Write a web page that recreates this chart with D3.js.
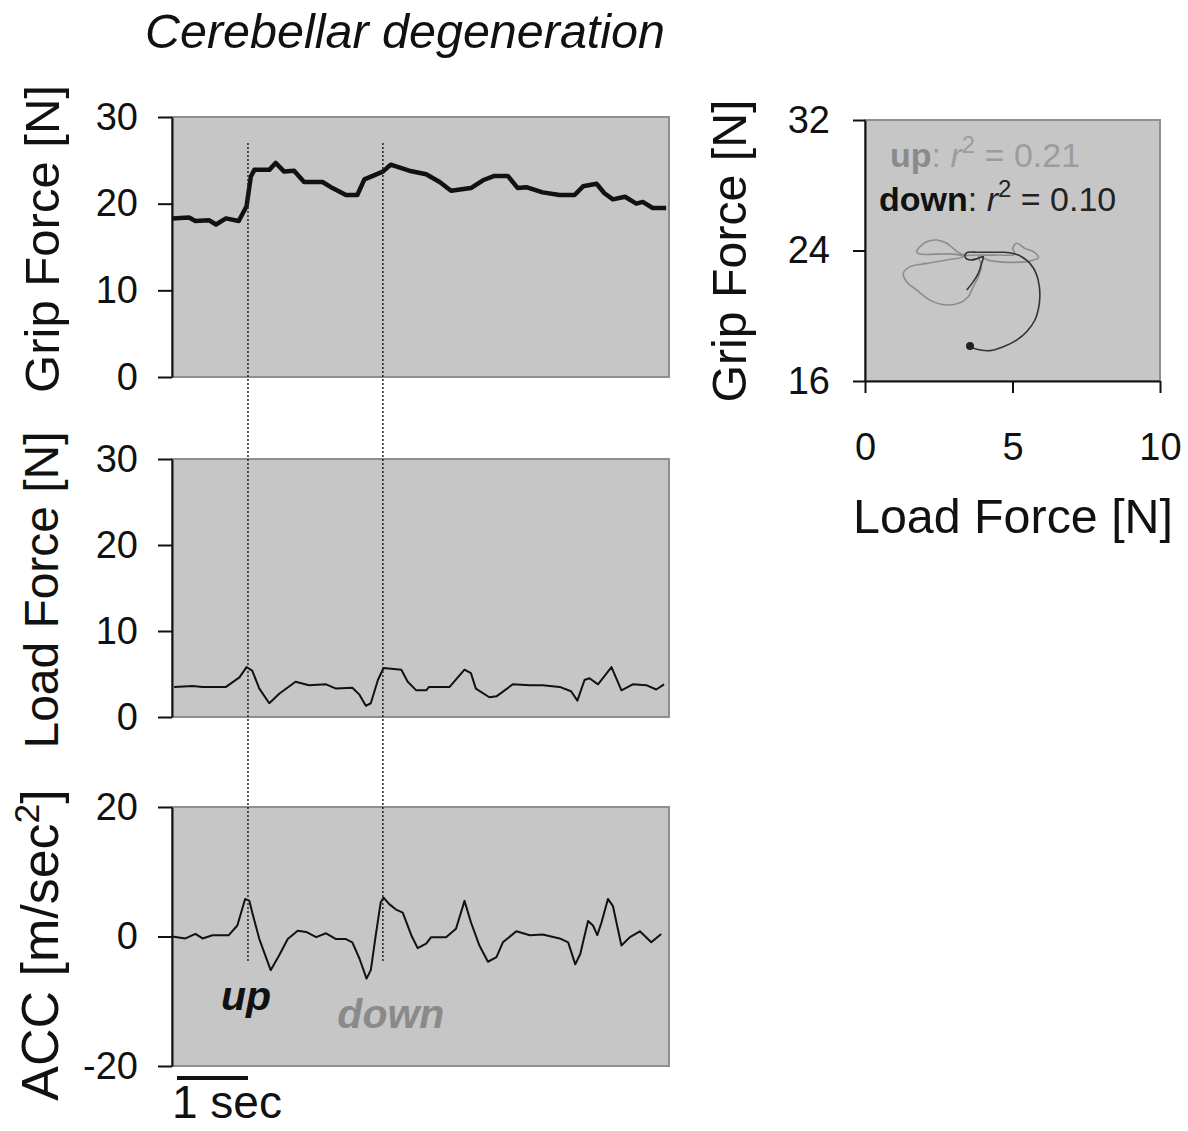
<!DOCTYPE html>
<html>
<head>
<meta charset="utf-8">
<script src="https://cdn.jsdelivr.net/npm/d3@7"></script>
<style>
    body { margin: 0; background: #fff; }
    svg text { font-family: "Liberation Sans", Arial, sans-serif; fill: #111; }
    .axis path, .axis line { stroke: #111; stroke-width: 2; }
    .axis text { font-size: 38px; fill: #111; }
    .frame { fill: #c6c6c6; stroke: #8f8f8f; stroke-width: 2; }
</style>
</head>
<body>
<div id="chart"></div>
<script>
;(function () {

    // time series (seconds, value)
    var gripTime = [0, 0.24, 0.33, 0.52, 0.62, 0.76, 0.94, 1.05, 1.11, 1.16, 1.37, 1.46, 1.58, 1.72, 1.86,
        2.12, 2.26, 2.45, 2.61, 2.71, 2.97, 3.08, 3.34, 3.58, 3.77, 3.93, 4.21, 4.38, 4.54, 4.73, 4.87, 4.99,
        5.22, 5.46, 5.67, 5.79, 5.98, 6.09, 6.21, 6.38, 6.54, 6.63, 6.77, 6.96];
    var gripForce = [18.3, 18.4, 18.0, 18.1, 17.6, 18.3, 18.0, 19.7, 23.1, 23.9, 23.9, 24.7, 23.7, 23.8, 22.5,
        22.5, 21.8, 21.0, 21.0, 22.8, 23.7, 24.5, 23.8, 23.4, 22.5, 21.5, 21.8, 22.7, 23.2, 23.2, 21.8, 21.9,
        21.3, 21.0, 21.0, 22.0, 22.3, 21.2, 20.5, 20.8, 20.0, 20.2, 19.5, 19.5];

    var loadTime = [0.03, 0.29, 0.43, 0.57, 0.76, 0.95, 1.05, 1.13, 1.23, 1.37, 1.51, 1.74, 1.93, 2.17, 2.31,
        2.54, 2.64, 2.73, 2.80, 2.90, 2.98, 3.23, 3.32, 3.44, 3.58, 3.62, 3.91, 4.12, 4.21, 4.28, 4.47, 4.57,
        4.80, 5.04, 5.22, 5.46, 5.62, 5.71, 5.81, 5.88, 6.00, 6.19, 6.33, 6.49, 6.68, 6.82, 6.93];
    var loadForce = [3.5, 3.6, 3.5, 3.5, 3.5, 4.6, 5.8, 5.4, 3.3, 1.6, 2.7, 4.1, 3.7, 3.8, 3.3,
        3.4, 2.6, 1.3, 1.6, 4.3, 5.7, 5.5, 4.1, 3.1, 3.1, 3.5, 3.5, 5.5, 5.1, 3.3, 2.3, 2.4,
        3.8, 3.7, 3.7, 3.5, 3.0, 1.9, 4.3, 4.5, 3.8, 5.8, 3.1, 3.8, 3.7, 3.2, 3.8];

    var accTime = [0, 0.19, 0.33, 0.43, 0.57, 0.80, 0.92, 1.03, 1.09, 1.13, 1.23, 1.39, 1.51, 1.63, 1.77,
        1.89, 2.03, 2.17, 2.31, 2.45, 2.54, 2.64, 2.74, 2.80, 2.87, 2.94, 2.98, 3.06, 3.15, 3.25, 3.37, 3.46,
        3.58, 3.65, 3.86, 4.00, 4.12, 4.21, 4.33, 4.45, 4.57, 4.66, 4.85, 5.04, 5.22, 5.46, 5.58, 5.68, 5.75,
        5.86, 5.93, 5.99, 6.05, 6.14, 6.21, 6.33, 6.45, 6.59, 6.75, 6.89];
    var accValue = [0, -0.3, 0.4, -0.3, 0.2, 0.2, 1.7, 5.8, 5.5, 3.7, -0.4, -5.2, -2.9, -0.4, 0.9,
        0.7, -0.1, 0.5, -0.4, -0.4, -0.9, -3.4, -6.5, -5.2, 0.2, 5.3, 6.0, 5.0, 4.2, 3.7, 0.2, -1.8,
        -1.1, -0.1, -0.1, 1.2, 5.5, 2.2, -1.4, -3.9, -3.2, -0.9, 0.8, 0.2, 0.3, -0.3, -0.9, -4.3, -2.7,
        2.4, 1.7, 0.2, 2.2, 5.8, 4.7, -1.4, -0.1, 0.8, -0.9, 0.4];

    // onsets of the up and down movements
    var markerTimes = [1.07, 2.97];
    var markerNames = ['up', 'down'];

    // grip force vs load force loops
    var upLoad = [3.45, 3.22, 2.99, 2.77, 2.43, 2.09, 1.86, 1.75, 1.86, 2.43, 2.99, 3.33, 2.77, 2.09, 1.53,
        1.30, 1.41, 1.75, 2.20, 2.77, 3.22, 3.50, 3.67, 3.84, 3.95, 3.84, 4.24, 5.03, 5.65, 5.88,
        5.71, 5.42, 5.14, 5.01, 5.08, 4.50, 3.90, 3.45];
    var upGrip = [23.70, 23.82, 24.13, 24.44, 24.64, 24.54, 24.23, 23.93, 23.78, 23.78, 23.78, 23.62, 23.42, 23.21, 23.01,
        22.60, 22.09, 21.58, 20.96, 20.66, 20.80, 21.17, 21.78, 22.39, 23.11, 23.62, 23.38, 23.27, 23.38, 23.58,
        23.93, 24.13, 24.44, 24.13, 23.78, 23.72, 23.72, 23.70];
    var downLoad = [3.56, 3.79, 4.24, 4.69, 5.14, 5.48, 5.76, 5.91, 5.91, 5.80, 5.59, 5.31, 5.03, 4.69, 4.24,
        3.79, 3.45, 3.39, 3.56, 3.84, 4.01, 3.95, 3.84, 3.67, 3.45];
    var downGrip = [18.14, 17.94, 17.86, 18.10, 18.51, 19.02, 19.74, 20.76, 21.78, 22.60, 23.21, 23.62, 23.82, 23.89, 23.89,
        23.89, 23.87, 23.62, 23.42, 23.52, 23.62, 23.21, 22.60, 22.09, 21.58];

    var forceTicks = [0, 10, 20, 30];
    var accTicks = [-20, 0, 20];
    var scatterYTicks = [16, 24, 32];
    var scatterXTicks = [0, 5, 10];
    var fitLabels = [{ name: 'up', r2: '0.21' }, { name: 'down', r2: '0.10' }];

    var width = 1188
        , height = 1131
        , svg;

    function pairs(xs, ys) {
        return xs.map(function (x, i) { return [x, ys[i]]; });
    }

    function addFrame(x0, x1, y0, y1) {
        svg.append('rect')
            .attr('class', 'frame')
            .attr('x', x0)
            .attr('y', y0)
            .attr('width', x1 - x0)
            .attr('height', y1 - y0);
    }

    function addYLabel(parts, cx, cy, size, length) {
        var t = svg.append('text')
            .attr('transform', 'translate(' + cx + ',' + cy + ') rotate(-90)')
            .attr('text-anchor', 'middle')
            .attr('font-size', size);
        if (typeof parts === 'string') {
            t.text(parts);
            if (length) {
                t.attr('textLength', length).attr('lengthAdjust', 'spacingAndGlyphs');
            }
        } else {
            t.append('tspan').text(parts[0]);
            t.append('tspan').attr('font-size', size * 0.68).attr('dy', -size * 0.36).text(parts[1]);
            t.append('tspan').attr('dy', size * 0.36).text(parts[2]);
        }
    }

    function drawTraces() {
        var x = d3.scaleLinear().domain([0, 7]).range([172, 669]);

        var yGrip = d3.scaleLinear().domain([0, 30]).range([377, 117]);
        var yLoad = d3.scaleLinear().domain([0, 30]).range([717, 459]);
        var yAcc = d3.scaleLinear().domain([-20, 20]).range([1066, 807]);

        var panels = [
            { y: yGrip, ticks: forceTicks, data: pairs(gripTime, gripForce), lw: 4.5 },
            { y: yLoad, ticks: forceTicks, data: pairs(loadTime, loadForce), lw: 2 },
            { y: yAcc, ticks: accTicks, data: pairs(accTime, accValue), lw: 2 }
        ];

        panels.forEach(function (p) {
            var r = p.y.range();
            addFrame(x(0), x(7), r[1], r[0]);

            svg.append('g')
                .attr('class', 'axis')
                .attr('transform', 'translate(' + x(0) + ',0)')
                .call(d3.axisLeft(p.y)
                    .tickValues(p.ticks)
                    .tickSize(14)
                    .tickSizeOuter(0)
                    .tickPadding(20)
                    .tickFormat(function (d) { return String(d); }));

            svg.append('path')
                .datum(p.data)
                .attr('fill', 'none')
                .attr('stroke', '#111')
                .attr('stroke-width', p.lw)
                .attr('stroke-linejoin', 'round')
                .attr('d', d3.line()
                    .x(function (d) { return x(d[0]); })
                    .y(function (d) { return p.y(d[1]); }));
        });

        // dotted onset markers running through all three panels
        svg.selectAll('.marker')
            .data(markerTimes)
            .enter().append('line')
            .attr('class', 'marker')
            .attr('x1', function (d) { return x(d); })
            .attr('x2', function (d) { return x(d); })
            .attr('y1', yGrip(27))
            .attr('y2', yAcc(-4))
            .attr('stroke', '#222')
            .attr('stroke-width', 1.5)
            .attr('stroke-dasharray', '2,2');

        svg.selectAll('.onset')
            .data(markerNames)
            .enter().append('text')
            .attr('class', 'onset')
            .attr('x', function (d, i) { return x(markerTimes[i]) + (i ? 8 : -2); })
            .attr('y', function (d, i) { return i ? 1028 : 1010; })
            .attr('text-anchor', 'middle')
            .attr('font-size', 41)
            .attr('font-weight', 'bold')
            .attr('font-style', 'italic')
            .style('fill', function (d, i) { return i ? '#8a8a8a' : '#111'; })
            .text(function (d) { return d; });

        // 1 sec scale bar
        svg.append('line')
            .attr('x1', x(0) + 5)
            .attr('x2', x(1) + 5)
            .attr('y1', 1078)
            .attr('y2', 1078)
            .attr('stroke', '#111')
            .attr('stroke-width', 4);

        svg.append('text')
            .attr('x', 172)
            .attr('y', 1118)
            .attr('font-size', 46)
            .text('1 sec');

        addYLabel('Grip Force [N]', 59, 239, 48, 308);
        addYLabel('Load Force [N]', 58, 590, 48, 317);
        addYLabel(['ACC [m/sec', '2', ']'], 58, 945, 52);
    }

    function drawLoops() {
        var x = d3.scaleLinear().domain([0, 10]).range([865, 1160]);
        var y = d3.scaleLinear().domain([16, 32]).range([381, 120]);

        addFrame(865, 1160, 120, 381);

        svg.append('g')
            .attr('class', 'axis')
            .attr('transform', 'translate(865,0)')
            .call(d3.axisLeft(y)
                .tickValues(scatterYTicks)
                .tickSize(12)
                .tickSizeOuter(0)
                .tickPadding(23)
                .tickFormat(function (d) { return String(d); }));

        svg.append('g')
            .attr('class', 'axis')
            .attr('transform', 'translate(0,381)')
            .call(d3.axisBottom(x)
                .tickValues(scatterXTicks)
                .tickSize(12)
                .tickSizeOuter(0)
                .tickPadding(40)
                .tickFormat(function (d) { return String(d); }));

        var line = d3.line()
            .x(function (d) { return x(d[0]); })
            .y(function (d) { return y(d[1]); })
            .curve(d3.curveCatmullRom);

        svg.append('path')
            .datum(pairs(upLoad, upGrip))
            .attr('fill', 'none')
            .attr('stroke', '#8c8c8c')
            .attr('stroke-width', 1.6)
            .attr('d', line);

        var down = pairs(downLoad, downGrip);
        svg.append('path')
            .datum(down)
            .attr('fill', 'none')
            .attr('stroke', '#333')
            .attr('stroke-width', 1.6)
            .attr('d', line);

        svg.append('circle')
            .attr('cx', x(down[0][0]))
            .attr('cy', y(down[0][1]))
            .attr('r', 4)
            .attr('fill', '#222');

        var fit = svg.selectAll('.fit')
            .data(fitLabels)
            .enter().append('text')
            .attr('class', 'fit')
            .attr('x', function (d, i) { return i ? 879 : 890; })
            .attr('y', function (d, i) { return i ? 211 : 167; })
            .attr('font-size', 34);

        fit.append('tspan')
            .attr('font-weight', 'bold')
            .style('fill', function (d, i) { return i ? '#111' : '#8a8a8a'; })
            .text(function (d) { return d.name; });
        fit.append('tspan')
            .style('fill', function (d, i) { return i ? '#222' : '#9c9c9c'; })
            .text(': ');
        fit.append('tspan')
            .attr('font-style', 'italic')
            .style('fill', function (d, i) { return i ? '#222' : '#9c9c9c'; })
            .text('r');
        fit.append('tspan')
            .attr('font-size', 24)
            .attr('dy', -14)
            .style('fill', function (d, i) { return i ? '#222' : '#9c9c9c'; })
            .text('2');
        fit.append('tspan')
            .attr('dy', 14)
            .style('fill', function (d, i) { return i ? '#222' : '#9c9c9c'; })
            .text(function (d) { return ' = ' + d.r2; });

        addYLabel('Grip Force [N]', 746, 251, 48, 303);

        svg.append('text')
            .attr('x', 1013)
            .attr('y', 533)
            .attr('text-anchor', 'middle')
            .attr('font-size', 48)
            .attr('textLength', 320)
            .attr('lengthAdjust', 'spacingAndGlyphs')
            .text('Load Force [N]');
    }

    function initialize() {
        svg = d3.select('#chart').append('svg')
            .attr('width', width)
            .attr('height', height);

        svg.append('text')
            .attr('x', 145)
            .attr('y', 48)
            .attr('font-size', 48)
            .attr('font-style', 'italic')
            .attr('textLength', 520)
            .attr('lengthAdjust', 'spacingAndGlyphs')
            .text('Cerebellar degeneration');

        drawTraces();
        drawLoops();
    }

    initialize();

}());
</script>
</body>
</html>
